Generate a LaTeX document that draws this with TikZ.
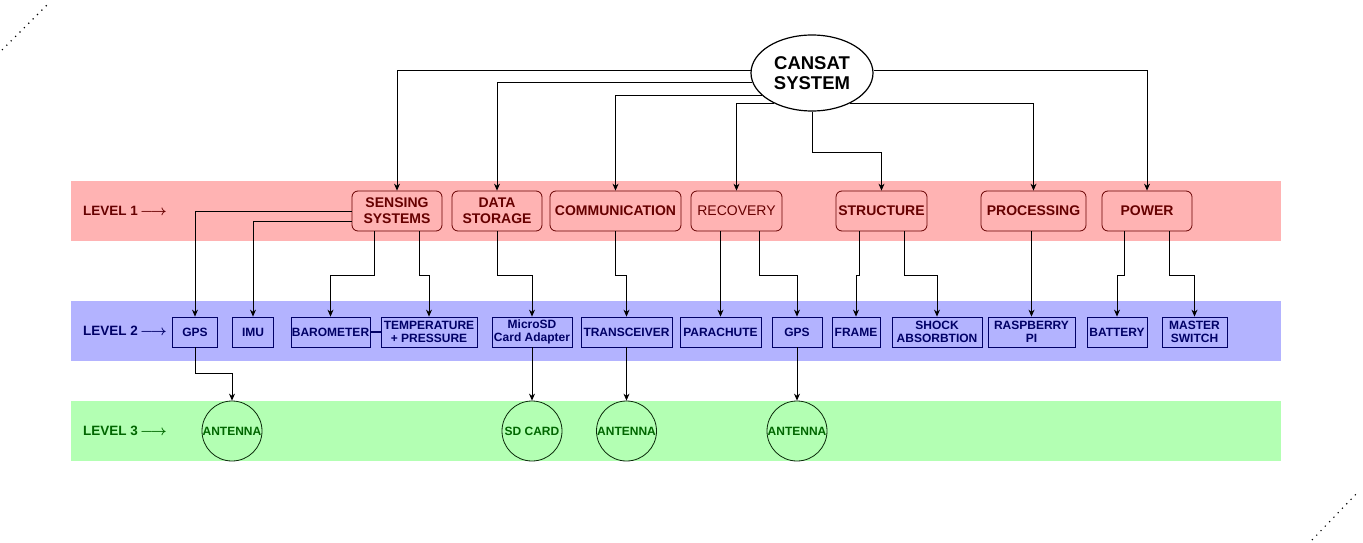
\documentclass[tikz,border=0pt]{standalone}
\usepackage{fontspec}
\setmainfont{Liberation Sans}
\usetikzlibrary{shapes.geometric,arrows.meta}
\definecolor{pinkband}{HTML}{FFB3B3}
\definecolor{blueband}{HTML}{B3B3FF}
\definecolor{greenband}{HTML}{B3FFB3}
\definecolor{lonetext}{HTML}{660000}
\definecolor{ltwotext}{HTML}{000066}
\definecolor{lthreetext}{HTML}{006600}
\definecolor{circborder}{HTML}{0A2A0A}
\tikzset{
  band/.style={draw=none},
  lvlabel/.style={anchor=west, inner sep=0pt, font=\fontsize{13.5}{15}\selectfont\bfseries},
  lonebox/.style={rectangle, rounded corners=6pt, draw=lonetext, line width=0.8pt, text=lonetext,
    minimum height=40pt, inner sep=0pt, align=center, font=\fontsize{14}{16}\selectfont\bfseries},
  ltwobox/.style={rectangle, draw=ltwotext, line width=0.8pt, text=ltwotext,
    minimum height=30pt, inner sep=0pt, align=center, font=\fontsize{12}{13.5}\selectfont\bfseries},
  lthreecirc/.style={circle, draw=circborder, line width=0.8pt, text=lthreetext,
    minimum size=60pt, inner sep=0pt, font=\fontsize{12}{14}\selectfont\bfseries},
  conn/.style={draw=black, line width=0.8pt, -{Stealth[length=7pt,width=6pt]}},
  cornerdots/.style={draw=black, line width=1.1pt, dash pattern=on 1.2pt off 5pt},
}
\newcommand{\lvarrow}{\,{\boldmath$\longrightarrow$}}
\begin{document}
\begin{tikzpicture}[x=1pt,y=-1pt]
\useasboundingbox (0,0) rectangle (1363,543);
% corner marks
\draw[cornerdots] (2,50) -- (47,5);
\draw[cornerdots] (1312,540) -- (1358,492);
% bands
\fill[pinkband] (71,181) rectangle (1281,241);
\fill[blueband] (71,301) rectangle (1281,361);
\fill[greenband] (71,401) rectangle (1281,461);
% level labels
\node[lvlabel, text=lonetext] (lvone) at (83,211) {LEVEL 1\lvarrow};
\node[lvlabel, text=ltwotext] (lvtwo) at (83,331) {LEVEL 2\lvarrow};
\node[lvlabel, text=lthreetext] (lvthree) at (83,431) {LEVEL 3\lvarrow};
% root
\node[ellipse, draw=black, line width=1.2pt, fill=white, minimum width=122pt, minimum height=76pt, inner sep=0pt,
  align=center, font=\fontsize{18.5}{20.5}\selectfont\bfseries] (cs) at (812,73) {CANSAT\\SYSTEM};
% level 1
\node[lonebox, minimum width=90pt] (sens) at (397,211) {SENSING\\SYSTEMS};
\node[lonebox, minimum width=90pt] (data) at (497,211) {DATA\\STORAGE};
\node[lonebox, minimum width=131pt] (comm) at (615.5,211) {COMMUNICATION};
\node[lonebox, minimum width=91pt, font=\fontsize{14}{16}\selectfont] (rec) at (736.5,211) {RECOVERY};
\node[lonebox, minimum width=91pt] (struc) at (881.5,211) {STRUCTURE};
\node[lonebox, minimum width=105pt] (proc) at (1033.5,211) {PROCESSING};
\node[lonebox, minimum width=90pt] (power) at (1147,211) {POWER};
% level 2
\node[ltwobox, minimum width=45pt] (gpsa) at (195,332) {GPS};
\node[ltwobox, minimum width=41pt] (imu) at (253,332) {IMU};
\node[ltwobox, minimum width=79pt] (baro) at (330.5,332) {BAROMETER};
\node[ltwobox, minimum width=96pt] (temp) at (429,332) {TEMPERATURE\\+ PRESSURE};
\node[ltwobox, minimum width=80pt] (msd) at (532,332) {MicroSD\\Card Adapter};
\node[ltwobox, minimum width=91pt] (trans) at (626.5,332) {TRANSCEIVER};
\node[ltwobox, minimum width=81pt] (para) at (720.5,332) {PARACHUTE};
\node[ltwobox, minimum width=50pt] (gpsb) at (797,332) {GPS};
\node[ltwobox, minimum width=48pt] (frame) at (856,332) {FRAME};
\node[ltwobox, minimum width=90pt] (shock) at (937,332) {SHOCK\\ABSORBTION};
\node[ltwobox, minimum width=87pt] (rpi) at (1031.5,332) {RASPBERRY\\PI};
\node[ltwobox, minimum width=60pt] (batt) at (1117,332) {BATTERY};
\node[ltwobox, minimum width=65pt] (msw) at (1194.5,332) {MASTER\\SWITCH};
% level 3
\node[lthreecirc] (anta) at (232,431) {ANTENNA};
\node[lthreecirc] (sdc) at (532,431) {SD CARD};
\node[lthreecirc] (antb) at (626.5,431) {ANTENNA};
\node[lthreecirc] (antc) at (797,431) {ANTENNA};
% root to level 1
\draw[conn] (cs.178) -| (sens.north);
\draw[conn] (cs.189) -| (data.north);
\draw[conn] (cs.204) -| (comm.north);
\draw[conn] (cs.219) -| (rec.north);
\draw[conn] (cs.south) -- ++(0,41) -| (struc.north);
\draw[conn] (cs.321) -| (proc.north);
\draw[conn] (cs.2) -| (power.north);
% level 1 to level 2
\draw[conn] (sens.west) -| (gpsa.north);
\draw[conn] ([yshift=-10pt]sens.west) -| (imu.north);
\draw[conn] ([xshift=-23pt]sens.south) -- ++(0,44) -| (baro.north);
\draw[conn] ([xshift=22pt]sens.south) -- ++(0,44) -| (temp.north);
\draw[conn] (data.south) -- ++(0,44) -| (msd.north);
\draw[conn] (comm.south) -- ++(0,44) -| (trans.north);
\draw[conn] (para.north |- rec.south) -- (para.north);
\draw[conn] ([xshift=22.5pt]rec.south) -- ++(0,44) -| (gpsb.north);
\draw[conn] ([xshift=-22.5pt]struc.south) -- ++(0,44) -| (frame.north);
\draw[conn] ([xshift=22.5pt]struc.south) -- ++(0,44) -| (shock.north);
\draw[conn] (rpi.north |- proc.south) -- (rpi.north);
\draw[conn] ([xshift=-23pt]power.south) -- ++(0,44) -| (batt.north);
\draw[conn] ([xshift=22pt]power.south) -- ++(0,44) -| (msw.north);
\draw[draw=ltwotext, line width=2pt] (baro.east) -- (temp.west);
% level 2 to level 3
\draw[conn] (gpsa.south) -- ++(0,26) -| (anta.north);
\draw[conn] (msd.south) -- (sdc.north);
\draw[conn] (trans.south) -- (antb.north);
\draw[conn] (gpsb.south) -- (antc.north);
\end{tikzpicture}
\end{document}
